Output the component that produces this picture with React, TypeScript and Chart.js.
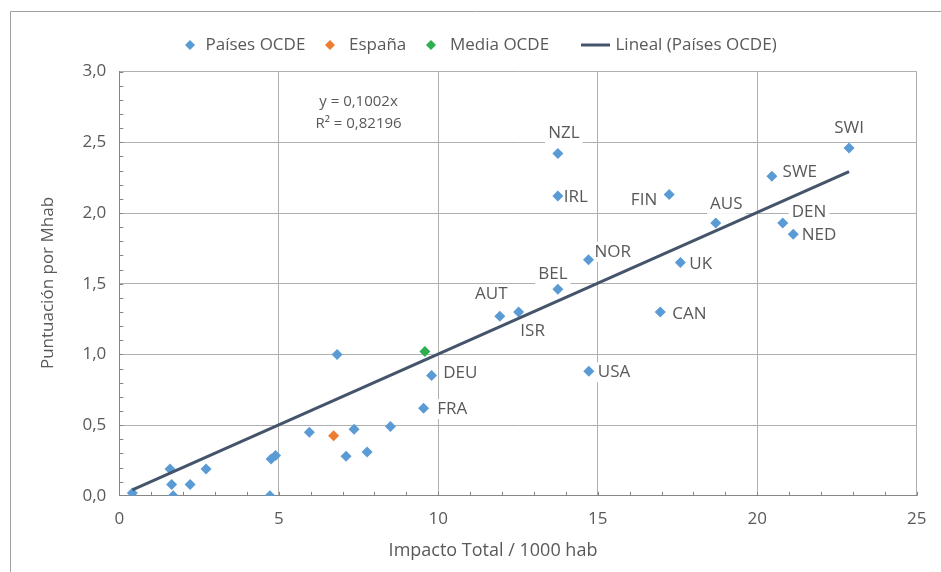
import { useEffect, useRef } from 'react';
import { Chart, registerables } from 'chart.js';

Chart.register(...registerables);

// ---- data ----
const impacto = [0.41, 1.59, 1.64, 1.69, 2.22, 2.72, 4.72, 4.76, 4.9, 5.96, 6.83, 7.11, 7.36, 7.77, 8.5, 9.54, 9.79, 11.93, 12.52, 13.75, 13.75, 13.75, 14.71, 14.72, 16.96, 17.24, 17.59, 18.7, 20.46, 20.8, 21.13, 22.88];
const puntuacion = [0.02, 0.19, 0.08, 0.0, 0.08, 0.19, 0.0, 0.26, 0.285, 0.45, 1.0, 0.28, 0.47, 0.31, 0.49, 0.62, 0.85, 1.27, 1.3, 1.46, 2.12, 2.42, 1.67, 0.88, 1.3, 2.13, 1.65, 1.93, 2.26, 1.93, 1.85, 2.46];
const paises = ['', '', '', '', '', '', '', '', '', '', '', '', '', '', '', 'FRA', 'DEU', 'AUT', 'ISR', 'BEL', 'IRL', 'NZL', 'NOR', 'USA', 'CAN', 'FIN', 'UK', 'AUS', 'SWE', 'DEN', 'NED', 'SWI'];
const espanaX = [6.72];
const espanaY = [0.425];
const mediaX = [9.58];
const mediaY = [1.02];
const pendiente = 0.1002;
const ecuacion = 'y = 0,1002x';
const r2 = 'R² = 0,82196';
const legendLabels = ['Países OCDE', 'España', 'Media OCDE', 'Lineal (Países OCDE)'];
const xTitle = 'Impacto Total / 1000 hab';
const yTitle = 'Puntuación por Mhab';

// ---- style ----
const BLUE = '#5B9BD5';
const ORANGE = '#ED7D31';
const GREEN = '#2EAF4F';
const LINE = '#44546A';
const TEXT = '#595959';
const FONT = '"Open Sans", sans-serif';

// label placement: dx, dy from point, alignment
const placement: Record<string, [number, number, CanvasTextAlign]> = {
  NZL: [6, -20, 'center'],
  IRL: [6, 1, 'left'],
  FIN: [-12, 6, 'right'],
  AUT: [-8.5, -22, 'center'],
  ISR: [14, 19, 'center'],
  BEL: [-5, -15, 'center'],
  NOR: [6, -8, 'left'],
  UK: [9, 2, 'left'],
  CAN: [12, 2, 'left'],
  AUS: [10.6, -19, 'center'],
  SWE: [10.7, -4, 'left'],
  DEN: [9, -11, 'left'],
  NED: [8.4, 1, 'left'],
  SWI: [0, -19.4, 'center'],
  DEU: [11.6, -2, 'left'],
  FRA: [13.6, 1, 'left'],
  USA: [9, 1, 'left'],
};

function diamond(ctx: CanvasRenderingContext2D, x: number, y: number, r: number, color: string) {
  ctx.beginPath();
  ctx.moveTo(x - r, y);
  ctx.lineTo(x, y - r);
  ctx.lineTo(x + r, y);
  ctx.lineTo(x, y + r);
  ctx.closePath();
  ctx.fillStyle = color;
  ctx.fill();
}

const decor = {
  id: 'decor',
  beforeDatasetsDraw(chart: any) {
    const ctx: CanvasRenderingContext2D = chart.ctx;
    const xs = chart.scales.x;
    const ys = chart.scales.y;
    ctx.save();
    ctx.font = `17px ${FONT}`;
    ctx.textBaseline = 'middle';
    paises.forEach((p, i) => {
      if (!p) return;
      const pl = placement[p];
      if (!pl) return;
      const px = xs.getPixelForValue(impacto[i]) + pl[0];
      const py = ys.getPixelForValue(puntuacion[i]) + pl[1];
      const w = ctx.measureText(p).width;
      let left = px;
      if (pl[2] === 'center') left = px - w / 2;
      else if (pl[2] === 'right') left = px - w;
      ctx.fillStyle = '#ffffff';
      ctx.fillRect(left - 3, py - 10, w + 6, 20);
      ctx.fillStyle = TEXT;
      ctx.textAlign = 'left';
      ctx.fillText(p, left, py);
    });
    // equation
    ctx.font = `15px ${FONT}`;
    ctx.textAlign = 'center';
    ctx.fillStyle = TEXT;
    const ex = xs.getPixelForValue(7.5);
    ctx.fillText(ecuacion, ex, 102);
    ctx.fillText(r2, ex, 124);
    ctx.restore();
  },
  afterDraw(chart: any) {
    const ctx: CanvasRenderingContext2D = chart.ctx;
    const xs = chart.scales.x;
    const ys = chart.scales.y;
    const area = chart.chartArea;
    ctx.save();
    // minor ticks
    ctx.strokeStyle = '#868686';
    ctx.lineWidth = 1;
    ctx.beginPath();
    for (let v = 1; v <= 30; v++) {
      const y = Math.round(ys.getPixelForValue(v / 10)) + 0.5;
      ctx.moveTo(area.left, y);
      ctx.lineTo(area.left + 4, y);
    }
    for (let v = 1; v <= 25; v++) {
      const x = Math.round(xs.getPixelForValue(v)) + 0.5;
      ctx.moveTo(x, area.bottom);
      ctx.lineTo(x, area.bottom - 4);
    }
    ctx.stroke();
    // outer border
    ctx.strokeStyle = '#a0a0a0';
    ctx.beginPath();
    ctx.moveTo(10.5, 600);
    ctx.lineTo(10.5, 11.5);
    ctx.lineTo(960, 11.5);
    ctx.stroke();
    // axis titles
    ctx.fillStyle = TEXT;
    ctx.font = `18px ${FONT}`;
    ctx.textAlign = 'center';
    ctx.textBaseline = 'middle';
    ctx.fillText(xTitle, 493, 551);
    ctx.font = `17px ${FONT}`;
    ctx.save();
    ctx.translate(48, 283);
    ctx.rotate(-Math.PI / 2);
    ctx.fillText(yTitle, 0, 0);
    ctx.restore();
    // legend
    ctx.font = `17px ${FONT}`;
    ctx.textAlign = 'left';
    const ly = 45;
    diamond(ctx, 190, ly, 5, BLUE);
    ctx.fillStyle = TEXT;
    ctx.fillText(legendLabels[0], 205.5, ly);
    diamond(ctx, 330, ly, 5, ORANGE);
    ctx.fillStyle = TEXT;
    ctx.fillText(legendLabels[1], 349, ly);
    diamond(ctx, 431, ly, 5, GREEN);
    ctx.fillStyle = TEXT;
    ctx.fillText(legendLabels[2], 450, ly);
    ctx.strokeStyle = LINE;
    ctx.lineWidth = 3;
    ctx.beginPath();
    ctx.moveTo(581, ly);
    ctx.lineTo(610, ly);
    ctx.stroke();
    ctx.fillStyle = TEXT;
    ctx.fillText(legendLabels[3], 615.5, ly);
    ctx.restore();
  },
};

export default function App() {
  const ref = useRef<HTMLCanvasElement>(null);
  useEffect(() => {
    if (!ref.current) return;
    const xMin = Math.min(...impacto);
    const xMax = Math.max(...impacto);
    const chart = new Chart(ref.current, {
      type: 'scatter',
      data: {
        datasets: [
          {
            type: 'line',
            label: legendLabels[3],
            data: [
              { x: xMin, y: pendiente * xMin },
              { x: xMax, y: pendiente * xMax },
            ],
            borderColor: LINE,
            borderWidth: 3,
            pointRadius: 0,
            fill: false,
          } as any,
          {
            label: legendLabels[2],
            data: mediaX.map((x, i) => ({ x, y: mediaY[i] })),
            pointStyle: 'rectRot',
            pointRadius: 5.5,
            backgroundColor: GREEN,
            borderWidth: 0,
          },
          {
            label: legendLabels[1],
            data: espanaX.map((x, i) => ({ x, y: espanaY[i] })),
            pointStyle: 'rectRot',
            pointRadius: 5.5,
            backgroundColor: ORANGE,
            borderWidth: 0,
          },
          {
            label: legendLabels[0],
            data: impacto.map((x, i) => ({ x, y: puntuacion[i] })),
            pointStyle: 'rectRot',
            pointRadius: 5.5,
            backgroundColor: BLUE,
            borderWidth: 0,
          },
        ],
      },
      options: {
        responsive: false,
        animation: false,
        layout: { padding: { left: 0, top: 71.6, right: 24.3, bottom: 0 } },
        plugins: { legend: { display: false }, tooltip: { enabled: false } },
        scales: {
          x: {
            type: 'linear',
            min: 0,
            max: 25,
            afterFit: (s: any) => { s.height = 76.2; },
            ticks: {
              stepSize: 5,
              padding: 13,
              color: TEXT,
              font: { family: FONT, size: 17 },
              callback: (v: any) => String(v),
            },
            grid: { color: '#b0b0b0', drawTicks: false, lineWidth: 1 },
            border: { display: true, color: '#868686', width: 1 },
          },
          y: {
            type: 'linear',
            min: 0,
            max: 3,
            afterFit: (s: any) => { s.width = 119.3; },
            ticks: {
              stepSize: 0.5,
              padding: 13,
              color: TEXT,
              font: { family: FONT, size: 17 },
              callback: (v: any) => Number(v).toFixed(1).replace('.', ','),
            },
            grid: { color: '#b0b0b0', drawTicks: false, lineWidth: 1 },
            border: { display: true, color: '#868686', width: 1 },
          },
        },
      },
      plugins: [decor],
    });
    return () => chart.destroy();
  }, []);
  return (
    <div style={{ position: 'fixed', left: 0, top: 0, width: 941, height: 572, background: '#fff' }}>
      <canvas ref={ref} width={941} height={572} style={{ display: 'block' }} />
    </div>
  );
}
